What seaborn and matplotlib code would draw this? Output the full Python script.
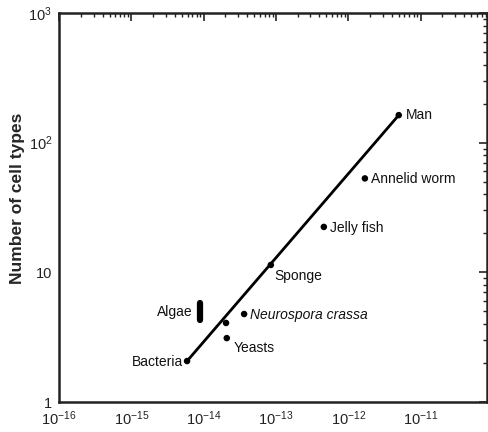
import matplotlib
matplotlib.use("Agg")
import matplotlib.pyplot as plt
import matplotlib.ticker as mticker
import seaborn as sns
import pandas as pd
import numpy as np

sns.set_theme(style="white")
fam = "Liberation Sans"
plt.rcParams['font.family'] = [fam, 'DejaVu Sans']
plt.rcParams['mathtext.fontset'] = 'custom'
plt.rcParams['mathtext.rm'] = fam
plt.rcParams['mathtext.it'] = fam + ':italic'

# Data
organisms = ["Bacteria", "", "Yeasts", "Neurospora crassa", "Sponge", "Jelly fish", "Annelid worm", "Man"]
dna_per_cell = [5.9e-15, 2.04e-14, 2.09e-14, 3.63e-14, 8.5e-14, 4.6e-13, 1.7e-12, 5.0e-12]
cell_types = [2.07, 4.07, 3.11, 4.77, 11.4, 22.4, 53, 163]
algae_dna = [8.9e-15, 8.9e-15]
algae_cells = [4.3, 5.8]
fit_dna = [5.9e-15, 5.0e-12]
fit_cells = [2.07, 163]
x_ticks = [1e-16, 1e-15, 1e-14, 1e-13, 1e-12, 1e-11]
x_tick_labels = [r"$10^{-16}$", r"$10^{-15}$", r"$10^{-14}$", r"$10^{-13}$", r"$10^{-12}$", r"$10^{-11}$"]
y_ticks = [1, 10, 100, 1000]
y_tick_labels = ["1", "10", r"$10^{2}$", r"$10^{3}$"]

df = pd.DataFrame({"organism": organisms, "dna": dna_per_cell, "cells": cell_types})
fit = pd.DataFrame({"dna": fit_dna, "cells": fit_cells})
alg = pd.DataFrame({"dna": algae_dna, "cells": algae_cells})

fig = plt.figure(figsize=(4.88, 4.32), dpi=100)
ax = fig.add_axes([0.121, 0.0694, 0.877, 0.9006])
ax.set_xscale("log")
ax.set_yscale("log")

sns.lineplot(data=fit, x="dna", y="cells", ax=ax, color="black", linewidth=2,
             sort=False, estimator=None)
sns.lineplot(data=alg, x="dna", y="cells", ax=ax, color="black", linewidth=4.5,
             sort=False, estimator=None, solid_capstyle="round")
sns.scatterplot(data=df, x="dna", y="cells", ax=ax, color="black", s=22, edgecolor="none", zorder=3)

ax.set_xlim(1e-16, 10**-10.08)
ax.set_ylim(1, 1000)

fs = 10
offsets = {
    "Bacteria": (-4, -1, "right", "normal"),
    "Yeasts": (7, -10, "left", "normal"),
    "Neurospora crassa": (6, -1, "left", "italic"),
    "Sponge": (4, -11, "left", "normal"),
    "Jelly fish": (6, -1, "left", "normal"),
    "Annelid worm": (6, -1, "left", "normal"),
    "Man": (7, 0, "left", "normal"),
}
for name, xv, yv in zip(organisms, dna_per_cell, cell_types):
    if name in offsets:
        dx, dy, ha, st = offsets[name]
        ax.annotate(name, (xv, yv), xytext=(dx, dy), textcoords="offset pixels",
                    ha=ha, va="center", fontsize=fs, style=st, color="#111111")
ax.annotate("Algae", (algae_dna[0], np.sqrt(algae_cells[0] * algae_cells[1])), xytext=(-7, -1),
            textcoords="offset pixels", ha="right", va="center", fontsize=fs, color="#111111")

ax.xaxis.set_major_locator(mticker.FixedLocator(x_ticks))
ax.xaxis.set_major_formatter(mticker.FixedFormatter(x_tick_labels))
ax.yaxis.set_major_locator(mticker.FixedLocator(y_ticks))
ax.yaxis.set_major_formatter(mticker.FixedFormatter(y_tick_labels))
ax.xaxis.set_minor_locator(mticker.LogLocator(base=10, subs=np.arange(2, 10), numticks=20))
ax.yaxis.set_minor_locator(mticker.LogLocator(base=10, subs=np.arange(2, 10), numticks=20))
ax.xaxis.set_minor_formatter(mticker.NullFormatter())
ax.yaxis.set_minor_formatter(mticker.NullFormatter())

ax.tick_params(which="both", direction="in", top=True, right=True, colors="#222222")
ax.tick_params(which="major", length=6, width=1.2, labelsize=10.5, pad=5)
ax.tick_params(which="minor", length=3, width=1)
for s in ax.spines.values():
    s.set_color("#222222")
    s.set_linewidth(1.8)

ax.set_xlabel("")
ax.set_ylabel("Number of cell types", fontsize=12.5, fontweight="bold")
ax.yaxis.set_label_coords(-0.079, 0.524)

fig.savefig("out.png", dpi=100)
